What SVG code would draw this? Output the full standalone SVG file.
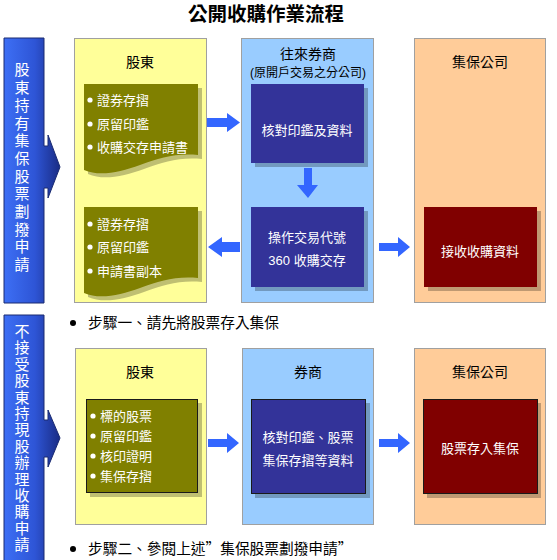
<svg xmlns="http://www.w3.org/2000/svg" width="557" height="560" viewBox="0 0 557 560">
<defs>
<style>
text{font-family:"Liberation Sans","Noto Sans CJK TC",sans-serif;}
.cjk{font-family:"Noto Sans CJK TC",sans-serif;}
.title{font-size:19.5px;font-weight:bold;fill:#000;text-anchor:middle;}
.hdr{font-size:14px;fill:#000;text-anchor:middle;}
.sub{font-size:12px;fill:#000;text-anchor:middle;}
.wt{font-size:13px;fill:#fff;}
.wc{font-size:13px;fill:#fff;text-anchor:middle;}
.vt{font-size:15px;fill:#fff;text-anchor:middle;}
.step{font-size:14.7px;fill:#000;}
.colY{fill:#FFFF99;stroke:#A0A0A0;stroke-width:1;}
.colB{fill:#99CCFF;stroke:#A0A0A0;stroke-width:1;}
.colO{fill:#FFCC99;stroke:#A0A0A0;stroke-width:1;}
.olive{fill:#808000;}
.navy{fill:#333399;}
.red{fill:#800000;}
.shadow{fill:#000;fill-opacity:0.25;}
.bd{stroke:#1a1a1a;stroke-width:1;}
.arrow{fill:#3366FF;}
.bar{fill:url(#barGrad);stroke:#1A2A70;stroke-width:1;}
</style>
<linearGradient id="barGrad" x1="0" y1="0" x2="1" y2="0">
<stop offset="0" stop-color="#3D6FF5"/>
<stop offset="0.55" stop-color="#2E55D6"/>
<stop offset="1" stop-color="#1A2C85"/>
</linearGradient>
<path id="doc" d="M0,0 H114 V71 C91,69 76,74 56,81 C36,88 16,93 0,86 Z"/>
</defs>
<rect width="557" height="560" fill="#fff"/>

<text class="title" x="266" y="21">公開收購作業流程</text>

<!-- Section 1 -->
<g id="bar1">
<path class="bar" d="M4,38 H44 V146 H48 V135 L60,167 L48,198 V188 H44 V303 H4 Z"/>
<text class="vt" x="22" y="75">股</text>
<text class="vt" x="22" y="93">東</text>
<text class="vt" x="22" y="111">持</text>
<text class="vt" x="22" y="129">有</text>
<text class="vt" x="22" y="146">集</text>
<text class="vt" x="22" y="164">保</text>
<text class="vt" x="22" y="182">股</text>
<text class="vt" x="22" y="199">票</text>
<text class="vt" x="22" y="217">劃</text>
<text class="vt" x="22" y="235">撥</text>
<text class="vt" x="22" y="252">申</text>
<text class="vt" x="22" y="270">請</text>
</g>

<g id="col1-shareholder">
<rect class="colY" x="74.5" y="38.5" width="132" height="264"/>
<text class="hdr" x="140" y="67">股東</text>
</g>
<g id="col1-broker">
<rect class="colB" x="241.5" y="38.5" width="132" height="264"/>
<text class="hdr" x="308" y="59">往來券商</text>
<text class="sub" x="308" y="77">(原開戶交易之分公司)</text>
</g>
<g id="col1-tdcc">
<rect class="colO" x="414.5" y="38.5" width="131" height="264"/>
<text class="hdr" x="480" y="67">集保公司</text>
</g>

<g id="doc1">
<use href="#doc" class="shadow" x="88" y="88"/>
<use href="#doc" class="olive" x="84" y="84"/>
<circle cx="90" cy="100" r="2.6" fill="#fff"/>
<text class="wt" x="97" y="105">證券存摺</text>
<circle cx="90" cy="124" r="2.6" fill="#fff"/>
<text class="wt" x="97" y="129">原留印鑑</text>
<circle cx="90" cy="147" r="2.6" fill="#fff"/>
<text class="wt" x="97" y="152">收購交存申請書</text>
</g>

<g id="verify1">
<rect class="shadow" x="255" y="88" width="113" height="79"/>
<rect class="navy" x="251" y="84" width="113" height="79"/>
<text class="wc" x="307" y="135">核對印鑑及資料</text>
</g>

<g id="operate">
<rect class="shadow" x="255" y="211" width="113" height="80"/>
<rect class="navy" x="251" y="207" width="113" height="80"/>
<text class="wc" x="307" y="242">操作交易代號</text>
<text class="wc" x="307" y="265">360 收購交存</text>
</g>

<g id="receive">
<rect class="shadow" x="428" y="211" width="113" height="80"/>
<rect class="red" x="424" y="207" width="113" height="80"/>
<text class="wc" x="480" y="256">接收收購資料</text>
</g>

<g id="doc2">
<use href="#doc" class="shadow" x="88" y="211"/>
<use href="#doc" class="olive" x="84" y="207"/>
<circle cx="90" cy="224" r="2.6" fill="#fff"/>
<text class="wt" x="97" y="229">證券存摺</text>
<circle cx="90" cy="247" r="2.6" fill="#fff"/>
<text class="wt" x="97" y="252">原留印鑑</text>
<circle cx="90" cy="271" r="2.6" fill="#fff"/>
<text class="wt" x="97" y="276">申請書副本</text>
</g>

<g id="step1">
<circle cx="73" cy="323" r="3" fill="#000"/>
<text class="step" x="88" y="328">步驟一、請先將股票存入集保</text>
</g>

<!-- Section 2 -->
<g id="bar2">
<path class="bar" d="M4,315 H44 V420 H48 V410 L60,438 L48,467 V457 H44 V562 H4 Z"/>
<text class="vt" x="22" y="337">不</text>
<text class="vt" x="22" y="353">接</text>
<text class="vt" x="22" y="370">受</text>
<text class="vt" x="22" y="386">股</text>
<text class="vt" x="22" y="403">東</text>
<text class="vt" x="22" y="419">持</text>
<text class="vt" x="22" y="435">現</text>
<text class="vt" x="22" y="452">股</text>
<text class="vt" x="22" y="468">辦</text>
<text class="vt" x="22" y="485">理</text>
<text class="vt" x="22" y="501">收</text>
<text class="vt" x="22" y="517">購</text>
<text class="vt" x="22" y="534">申</text>
<text class="vt" x="22" y="550">請</text>
</g>

<g id="col2-shareholder">
<rect class="colY" x="75.5" y="348.5" width="131" height="176"/>
<text class="hdr" x="140" y="377">股東</text>
</g>
<g id="col2-broker">
<rect class="colB" x="242.5" y="348.5" width="131" height="176"/>
<text class="hdr" x="308" y="377">券商</text>
</g>
<g id="col2-tdcc">
<rect class="colO" x="414.5" y="348.5" width="131" height="176"/>
<text class="hdr" x="480" y="377">集保公司</text>
</g>

<g id="docs3">
<rect class="shadow" x="90" y="403" width="112" height="94"/>
<rect class="olive bd" x="86.5" y="399.5" width="111" height="93"/>
<circle cx="93" cy="416" r="2.6" fill="#fff"/>
<text class="wt" x="100" y="421">標的股票</text>
<circle cx="93" cy="436" r="2.6" fill="#fff"/>
<text class="wt" x="100" y="441">原留印鑑</text>
<circle cx="93" cy="456" r="2.6" fill="#fff"/>
<text class="wt" x="100" y="461">核印證明</text>
<circle cx="93" cy="476" r="2.6" fill="#fff"/>
<text class="wt" x="100" y="481">集保存摺</text>
</g>

<g id="verify2">
<rect class="shadow" x="255" y="403" width="115" height="95"/>
<rect class="navy bd" x="251.5" y="399.5" width="114" height="94"/>
<text class="wc" x="308" y="442">核對印鑑、股票</text>
<text class="wc" x="308" y="465">集保存摺等資料</text>
</g>

<g id="deposit">
<rect class="shadow" x="427" y="403" width="114" height="95"/>
<rect class="red bd" x="423.5" y="399.5" width="114" height="94"/>
<text class="wc" x="480" y="453">股票存入集保</text>
</g>

<g id="step2">
<circle cx="73" cy="549" r="3" fill="#000"/>
<text class="step" x="88" y="554">步驟二、參閱上述<tspan class="cjk">”</tspan>集保股票劃撥申請<tspan class="cjk">”</tspan></text>
</g>

<g id="connectors">
<path class="arrow" d="M207,118 H227 V113 L240,122.5 L227,132 V127 H207 Z"/>
<path class="arrow" d="M304,168 H312 V185 H318 L308,198 L297,185 H304 Z"/>
<path class="arrow" d="M240,242 H222 V237 L208,247 L222,257 V252 H240 Z"/>
<path class="arrow" d="M379,243 H398 V237 L410,247 L398,257 V251 H379 Z"/>
<path class="arrow" d="M208,439 H227 V433 L239,443 L227,453 V447 H208 Z"/>
<path class="arrow" d="M379,439 H398 V433 L410,443 L398,453 V447 H379 Z"/>
</g>
</svg>
